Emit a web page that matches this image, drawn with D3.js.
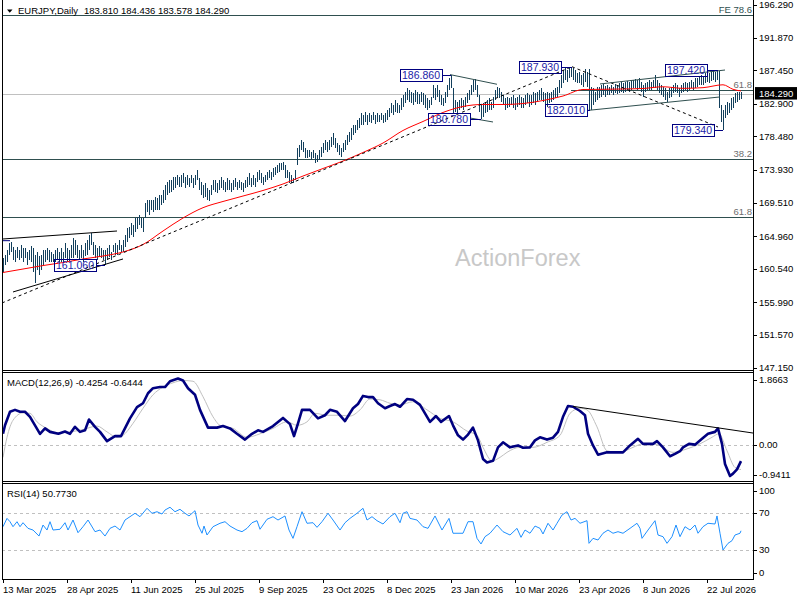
<!DOCTYPE html>
<html lang="en">
<head>
<meta charset="UTF-8">
<title>EURJPY Daily</title>
<script src="https://d3js.org/d3.v7.min.js"></script>
<style>
  body { margin: 0; background: #ffffff; }
  svg { display: block; font-family: "Liberation Sans", Arial, sans-serif; }
</style>
</head>
<body>
<script>
// ---- data ----
const symbolTitle = "EURJPY,Daily";
const lastOHLC = [183.810, 184.436, 183.578, 184.290];

// daily bar highs / lows, 13 Mar 2025 onwards
const highs = [
  162.0,162.4,163.1,164.0,164.2,163.5,163.1,163.5,163.1,163.8,
  163.4,163.4,162.8,163.1,163.6,163.4,162.4,162.8,162.3,162.4,
  163.1,163.1,163.4,163.1,162.8,162.6,163.1,163.4,162.8,163.4,
  162.8,164.0,163.4,163.1,163.8,164.7,164.5,163.8,163.1,163.8,
  163.1,164.0,164.5,165.1,165.4,164.2,163.8,163.4,163.6,163.4,
  163.1,163.1,163.4,163.8,162.8,163.8,164.0,163.8,164.5,163.8,
  164.5,165.1,166.1,166.2,166.8,166.5,167.4,167.6,167.8,167.4,
  167.4,169.5,169.9,169.9,169.9,169.9,170.3,170.1,170.6,170.6,
  171.2,171.9,172.3,172.6,172.6,173.0,173.0,173.3,173.0,173.3,
  173.5,173.0,173.3,172.9,173.3,172.9,173.3,173.9,172.9,172.3,
  171.9,172.2,171.5,171.2,171.9,172.6,172.6,172.2,172.6,173.0,
  172.6,172.3,172.9,172.6,172.2,172.6,172.9,172.3,172.6,172.3,
  172.2,172.6,173.0,173.5,172.9,173.3,172.9,173.7,173.9,173.5,
  173.0,173.3,173.7,173.9,173.7,174.2,174.3,174.6,174.9,174.9,
  175.0,174.6,173.9,173.7,173.3,172.9,173.9,176.9,177.3,178.0,
  177.7,176.9,176.6,176.6,176.4,176.6,176.2,176.0,176.6,177.0,
  177.6,178.0,177.7,178.0,178.4,178.9,178.3,177.6,177.3,176.9,
  177.6,178.0,178.7,179.1,179.6,180.0,180.0,180.7,181.0,181.7,
  181.4,181.8,181.4,181.7,181.4,181.8,181.4,181.7,181.4,181.7,
  181.4,181.7,182.1,182.3,183.0,182.7,183.4,183.0,182.7,183.7,
  184.1,184.5,185.0,184.8,184.5,184.4,184.8,184.5,184.2,184.5,
  184.4,184.1,183.7,183.4,183.8,185.5,185.0,185.5,184.8,184.1,
  183.7,184.5,185.5,186.4,186.86,185.0,183.4,183.2,183.4,183.7,
  183.4,183.8,184.4,184.8,185.5,186.1,186.3,185.5,184.1,182.7,
  183.0,183.2,183.4,183.7,183.2,183.8,184.8,185.2,185.0,184.5,
  184.1,183.7,183.8,183.7,183.8,184.1,183.7,183.8,184.1,183.8,
  183.7,184.1,184.4,184.1,184.1,184.5,184.4,184.5,184.8,185.0,
  184.5,184.4,184.5,184.4,184.5,184.8,185.0,185.2,186.1,186.8,
  187.5,187.8,187.5,187.9,187.93,187.8,187.5,187.1,187.2,186.8,
  187.1,187.6,187.2,187.6,185.2,185.0,184.5,185.2,185.2,185.5,
  185.6,185.3,185.5,185.2,185.5,185.2,185.6,185.5,185.7,185.9,
  185.7,185.9,186.0,185.9,186.1,186.1,186.3,186.1,186.4,185.9,
  185.5,185.7,185.9,186.1,185.9,186.1,186.8,186.1,185.7,185.5,
  185.2,185.0,184.5,185.0,185.2,185.5,185.7,185.5,185.0,185.5,
  185.7,185.9,185.7,185.9,186.1,185.9,186.4,186.4,186.5,186.8,
  186.5,187.1,187.2,187.1,187.2,187.3,187.2,187.42,187.3,182.7,
  182.1,182.7,183.2,183.0,183.7,183.8,184.4,184.5,184.5,184.436
];
const lows = [
  160.1,161.1,161.5,162.4,162.8,161.7,161.5,162.0,161.7,162.0,
  161.5,162.0,161.1,161.7,161.5,160.1,158.6,160.4,159.7,160.4,
  161.1,161.5,161.7,161.5,161.5,161.5,161.5,161.7,161.5,161.5,
  161.5,162.0,161.5,161.5,162.0,162.0,162.4,162.0,161.7,162.0,
  161.5,162.3,162.4,163.1,163.8,162.4,162.0,161.7,162.1,162.0,
  161.7,161.06,161.7,162.1,161.7,162.8,162.4,162.4,163.1,162.8,
  162.8,163.5,164.2,164.7,165.1,164.9,165.5,166.0,166.5,166.1,
  165.5,167.4,168.3,167.8,168.5,168.3,168.5,168.5,168.5,169.2,
  169.5,169.9,170.6,170.8,171.0,171.2,171.5,171.9,171.6,171.6,
  172.2,171.5,171.9,171.6,172.2,171.5,171.9,172.6,171.2,170.6,
  170.1,170.3,169.9,169.7,170.6,171.2,171.0,170.8,171.2,171.5,
  171.2,171.0,171.2,171.2,171.0,171.2,171.6,171.2,171.5,171.2,
  171.0,171.5,171.6,171.9,171.6,171.9,171.6,172.3,172.6,172.2,
  171.9,172.3,172.6,172.9,172.6,173.0,173.3,173.5,173.7,173.9,
  173.9,172.9,172.9,172.2,172.2,172.2,172.6,174.6,175.7,176.6,
  176.4,175.6,175.6,175.7,175.3,175.6,174.9,175.0,175.3,175.7,
  176.2,176.6,176.4,176.6,177.0,177.3,176.9,176.4,176.0,175.7,
  176.4,176.6,177.3,177.7,178.0,178.7,178.9,179.4,179.6,180.0,
  180.0,180.4,180.0,180.4,180.3,180.7,180.2,180.4,180.4,180.7,
  180.3,180.4,180.7,181.1,181.7,181.4,181.8,181.7,181.7,182.1,
  182.5,183.0,183.4,183.2,183.0,182.7,183.2,182.9,182.9,183.2,
  182.7,182.3,182.1,182.3,182.7,183.7,183.4,183.8,183.2,182.7,
  182.6,183.0,183.8,184.8,185.0,181.7,181.8,181.7,182.1,182.3,
  182.1,182.5,183.0,183.4,184.1,184.5,184.8,183.8,181.8,180.78,
  181.1,181.7,181.8,182.1,182.1,182.3,183.4,183.8,183.7,183.2,
  182.7,182.1,182.3,182.5,182.7,182.3,182.1,182.5,182.7,182.3,
  182.3,182.7,183.0,182.5,182.7,183.0,182.7,183.2,183.4,183.4,
  183.2,182.7,182.5,183.0,183.2,183.4,183.7,183.8,184.4,185.0,
  185.7,186.1,185.9,186.4,186.5,186.1,185.9,185.7,185.7,185.5,
  185.2,185.9,185.2,182.01,182.1,182.7,183.2,183.4,183.7,183.8,
  184.1,183.8,184.1,184.1,184.4,184.1,184.4,184.2,184.4,184.5,
  184.4,184.5,184.8,184.5,184.8,185.0,185.0,184.8,185.0,184.5,
  183.8,184.5,184.8,184.8,184.8,185.0,185.0,184.8,184.4,184.1,
  183.8,183.4,183.2,183.7,183.8,184.4,184.5,184.4,183.8,184.4,
  184.5,184.8,184.5,184.8,185.0,184.8,185.0,185.2,185.5,185.5,
  185.5,185.7,185.9,185.7,186.0,186.1,185.9,186.1,182.3,180.4,
  179.34,181.0,181.4,181.7,182.1,182.3,183.0,183.2,183.4,183.578
];

// red moving average, [bar, price]
const maLine = [
  [0,160.05],[10,160.52],[20,160.99],[30,161.40],[40,161.88],[50,162.28],[60,162.83],
  [70,163.84],[80,165.67],[90,167.43],[100,168.83],[110,169.67],[120,170.41],[130,171.16],
  [140,172.04],[150,173.12],[160,174.14],[170,175.15],[180,176.31],[190,177.59],[200,179.29],
  [210,180.51],[220,181.73],[230,182.54],[240,182.81],[250,182.81],[260,182.94],[270,183.35],
  [280,183.96],[290,184.84],[300,184.87],[310,184.91],[320,184.98],[330,185.21],[340,185.00],
  [350,185.09],[360,185.48],[365,184.87],[369,184.64]
];

const macdMain = [
  [0,0.28],[1,0.50],[3.5,0.85],[6,0.90],[8.5,0.85],[11,0.85],[13.5,0.72],[16,0.50],[18.5,0.28],
  [21,0.42],[23.5,0.33],[27.7,0.28],[31,0.34],[33.5,0.28],[36,0.46],[38.5,0.33],[41,0.37],
  [43,0.65],[46,0.46],[48.5,0.33],[52,0.09],[56,0.22],[59,0.22],[63.5,0.68],[67,0.97],
  [70,1.07],[72.5,1.33],[75,1.46],[78.5,1.49],[81,1.49],[83.5,1.64],[87.5,1.71],[90,1.66],
  [92.5,1.46],[96,1.29],[98.5,0.90],[102.5,0.44],[107,0.44],[110,0.48],[113.5,0.42],[117,0.28],
  [121,0.13],[124.5,0.28],[127.5,0.37],[130,0.33],[135,0.48],[140,0.69],[143.5,0.53],[145.5,0.22],
  [147.5,0.55],[149.5,0.90],[153.5,0.90],[157.5,0.68],[161,0.76],[163.5,0.90],[167,0.85],
  [171,0.61],[175,0.94],[177.5,1.05],[180,1.26],[182.5,1.23],[185,1.23],[187.5,1.07],[191,0.94],
  [193.5,1.00],[196,1.05],[198.5,0.98],[202,1.18],[205,1.16],[208.5,1.03],[211,0.81],[213.5,0.59],
  [216.5,0.74],[219,0.59],[223,0.74],[225,0.50],[227.5,0.24],[230,0.13],[232.5,0.26],[235,0.44],
  [237.5,0.11],[240,-0.37],[242,-0.46],[245,-0.42],[247.5,-0.07],[250,0.06],[253.5,-0.07],
  [257.5,-0.02],[260,-0.08],[263.5,-0.07],[266,0.11],[268.5,0.19],[272,0.13],[275,0.18],
  [277.5,0.33],[280,0.72],[282.5,1.00],[285,0.98],[288.5,0.87],[291,0.76],[292.5,0.28],
  [295,-0.02],[297.5,-0.26],[302,-0.20],[306,-0.20],[310,-0.20],[313.5,-0.02],[317.5,0.15],
  [320,0.02],[325,0.02],[327,0.09],[330,-0.07],[333.5,-0.30],[336,-0.24],[338.5,-0.17],
  [340,-0.07],[343,0.02],[346,0.00],[349.5,0.15],[352.5,0.28],[356,0.33],[357.5,0.42],
  [359.5,0.02],[361,-0.50],[363.5,-0.81],[365,-0.75],[367,-0.64],[369,-0.4254]
];
const macdSignal = [
  [0,-0.33],[2,0.19],[5,0.63],[10,0.82],[13.5,0.81],[17,0.59],[22,0.42],[27,0.31],[33.5,0.33],
  [40,0.39],[47,0.48],[52,0.33],[57,0.19],[60,0.24],[65,0.55],[70,0.94],[75,1.29],[80,1.49],
  [85,1.60],[90,1.66],[95,1.64],[100,1.24],[105,0.72],[109,0.48],[115,0.42],[122,0.19],
  [128.5,0.28],[135,0.42],[142,0.59],[147,0.50],[152,0.59],[156,0.81],[162,0.76],[168.5,0.76],
  [173.5,0.74],[178.5,0.90],[183.5,1.18],[188.5,1.16],[193.5,1.07],[198.5,1.03],[205,1.11],
  [212,0.90],[218.5,0.68],[225,0.59],[232,0.35],[237,0.24],[240,-0.07],[244.5,-0.42],
  [248.5,-0.33],[252,-0.20],[258.5,-0.07],[265,-0.07],[272,0.06],[278.5,0.24],[283.5,0.81],
  [288.5,0.94],[292,0.90],[297,0.46],[302,-0.16],[308.5,-0.20],[315,-0.07],[320,0.02],
  [327,0.00],[335,-0.20],[342,-0.11],[348.5,0.02],[354.5,0.19],[358,0.28],[362,-0.16],
  [366,-0.59],[369,-0.6444]
];
const macdTrend = [[285, 0.99], [375, 0.30]];

const rsiLine = [
  [0,55.2],[2,64.2],[3.5,60.6],[5,55.2],[7,60.6],[8.5,55.2],[10,59.5],[12.5,53.4],[15,51.6],
  [18,45.1],[20,57.0],[22,51.6],[23.5,60.6],[25,51.6],[28.5,52.4],[31,59.5],[32.5,51.6],
  [35,62.4],[37.5,48.7],[40,55.2],[42.5,62.4],[46,49.8],[48.5,51.6],[51,45.1],[53.5,53.4],
  [56,55.9],[58.5,51.6],[61,62.4],[63.5,66.0],[66,69.7],[68.5,66.0],[72,75.1],[74.5,69.7],
  [77,71.4],[79.5,68.9],[81,73.2],[83.5,76.2],[86,71.4],[88.5,74.0],[91,69.7],[93,66.8],
  [96,72.5],[97.5,57.0],[99.5,48.1],[100.5,55.9],[102,46.2],[105,55.2],[108.5,58.9],[111,60.6],
  [113.5,55.9],[117,51.6],[119.5,49.8],[122,53.4],[124.5,59.5],[127,61.7],[128.5,52.4],
  [132,63.2],[135,66.0],[137.5,62.4],[141,66.8],[143,51.6],[145,42.6],[147,55.2],[149.5,71.4],
  [152,58.9],[155,59.5],[157,54.5],[159.5,60.6],[162.5,69.7],[165,62.4],[168.5,51.6],[171,59.5],
  [173.5,64.2],[177,69.7],[180,75.1],[182,62.4],[184.5,66.0],[187,61.7],[190,58.1],[193.5,66.0],
  [196,69.7],[198.5,59.5],[200,69.7],[202,71.4],[203.5,64.2],[207,62.4],[210,55.2],[212.5,53.4],
  [216,66.8],[219.5,51.6],[223,64.2],[225,48.1],[227.5,48.1],[230,48.1],[232.5,60.6],[235,60.6],
  [237,42.6],[239,36.5],[241,44.4],[243.5,48.1],[247,57.0],[250,49.8],[253.5,46.2],[257,53.4],
  [259,43.7],[261,51.6],[263.5,48.1],[266,55.9],[268.5,53.4],[270,47.3],[272.5,58.9],[275,51.6],
  [277,58.9],[279.5,67.8],[282,71.4],[284,62.4],[286,64.2],[288.5,58.9],[292,61.7],[293,37.2],
  [295,42.6],[297.5,40.8],[300,48.1],[302.5,51.6],[305,48.1],[307.5,49.8],[310,48.1],[313.5,53.4],
  [317,58.9],[318.5,53.4],[319.5,42.6],[322.5,51.6],[326,61.7],[327.5,46.2],[330,44.4],[332,37.2],
  [334.5,44.4],[336.5,57.0],[338.5,44.4],[341,55.2],[343.5,51.6],[346,57.0],[347.5,48.1],
  [350,55.2],[352.5,58.9],[356,58.1],[357,66.8],[358.5,48.1],[360,30.0],[362.5,37.2],
  [364.5,40.1],[366,46.2],[368.5,48.1],[369,50.773]
];

const dateBars = [0, 32, 64, 96, 128, 160, 192, 224, 256, 288, 320, 352];
const dateLabels = ["13 Mar 2025", "28 Apr 2025", "11 Jun 2025", "25 Jul 2025", "9 Sep 2025",
  "23 Oct 2025", "8 Dec 2025", "23 Jan 2026", "10 Mar 2026", "23 Apr 2026", "8 Jun 2026", "22 Jul 2026"];
const priceTicks = [196.290, 191.870, 187.450, 182.900, 178.480, 173.930, 169.510, 164.960,
  160.540, 155.990, 151.570, 147.150];
const macdTicks = [1.8663, 0, -0.9411];
const rsiTicks = [100, 70, 30, 0];
const rsiLevels = [70, 30];

// fib levels: [label, price, first bar]
const fibLevels = [["FE 78.6", 194.94, -2], ["61.8", 184.73, 284], ["38.2", 175.36, -2], ["61.8", 167.53, -2]];

// trend lines, [[bar, price], [bar, price]]
const dashedTrends = [
  [[-0.5, 155.92], [284.5, 187.93]],
  [[284.5, 187.93], [357.5, 179.76]]
];
const blackTrends = [
  [[0, 164.59], [57, 165.67]],
  [[5, 157.41], [60, 161.88]]
];
const slateTrends = [
  [[223.5, 186.86], [247, 185.55]],
  [[233.5, 180.98], [245, 180.44]],
  [[292, 182.0], [358.5, 183.83]],
  [[298.5, 185.59], [361, 187.48]]
];
const navyMarks = [[[-0.5, 164.36], [3.5, 164.36]]];

// swing high / low labels
const swings = [
  ["161.060", 51, 161.06], ["186.860", 224, 186.86], ["180.780", 239, 180.78],
  ["187.930", 284.5, 187.93], ["182.010", 293.5, 182.01], ["187.420", 357.5, 187.42],
  ["179.340", 360, 179.34]
];
const swingGaps = [9, 9, 11, 11, 3, 11, 9];

// ---- layout ----
const W = 800, H = 600;
const plotL = 2, plotR = 753;
const main = {top: 0, bottom: 370};
const macdP = {top: 372, bottom: 481};
const rsiP = {top: 483, bottom: 579};
const fs = 9.5;

const x = d3.scaleLinear().domain([0, 369]).range([3, 741]);
const y = d3.scaleLinear().domain([147.15, 196.29]).range([367.7, 5]);
const yM = d3.scaleLinear().domain([-0.9411, 1.8663]).range([481, 372.5]);
const yR = d3.scaleLinear().domain([0, 100]).range([577.75, 485.25]);

const slate = "#2f4f4f";
const barColor = "#123f5c";

const svg = d3.select("body").append("svg")
    .attr("width", W).attr("height", H)
    .attr("viewBox", [0, 0, W, H].join(" "));

const defs = svg.append("defs");
[["clipMain", main], ["clipMacd", macdP], ["clipRsi", rsiP]].forEach(([id, p]) => {
  defs.append("clipPath").attr("id", id).append("rect")
      .attr("x", plotL).attr("y", p.top).attr("width", plotR - plotL).attr("height", p.bottom - p.top);
});

// watermark
svg.append("text")
    .attr("x", 455).attr("y", 266)
    .attr("font-size", 23.5)
    .attr("fill", "#c8c8c8")
    .text("ActionForex");

const gMain = svg.append("g").attr("clip-path", "url(#clipMain)");

// horizontal levels
gMain.append("line")
    .attr("x1", plotL).attr("x2", plotR)
    .attr("y1", Math.round(y(lastOHLC[3])) + 0.5).attr("y2", Math.round(y(lastOHLC[3])) + 0.5)
    .attr("stroke", "#c0c0c0");

gMain.selectAll(".fib")
  .data(fibLevels)
  .join("line")
    .attr("x1", d => Math.max(plotL, x(d[2])))
    .attr("x2", plotR)
    .attr("y1", d => Math.round(y(d[1])) + 0.5)
    .attr("y2", d => Math.round(y(d[1])) + 0.5)
    .attr("stroke", slate);

svg.selectAll(".fibText")
  .data(fibLevels)
  .join("text")
    .attr("x", 752)
    .attr("y", d => y(d[1]) - 2.3)
    .attr("text-anchor", "end")
    .attr("font-size", fs)
    .attr("fill", (d, i) => i === 0 ? slate : "#6e6e6e")
    .text(d => d[0]);

// bars
gMain.append("g")
    .attr("shape-rendering", "crispEdges")
  .selectAll("line")
  .data(highs.map((h, i) => [i, h, lows[i]]))
  .join("line")
    .attr("x1", d => x(d[0]) + 0.5)
    .attr("x2", d => x(d[0]) + 0.5)
    .attr("y1", d => y(d[1]))
    .attr("y2", d => Math.max(y(d[2]), y(d[1]) + 1))
    .attr("stroke", barColor)
    .attr("stroke-width", 1);

// moving average
gMain.append("path")
    .datum(maLine)
    .attr("d", d3.line().x(d => x(d[0])).y(d => y(d[1])).curve(d3.curveMonotoneX))
    .attr("fill", "none")
    .attr("stroke", "#ff0000")
    .attr("stroke-width", 1);

// trend lines
const seg = (g, data, color, dash) => g.append("g")
  .selectAll("line")
  .data(data)
  .join("line")
    .attr("x1", d => x(d[0][0])).attr("y1", d => y(d[0][1]))
    .attr("x2", d => x(d[1][0])).attr("y2", d => y(d[1][1]))
    .attr("stroke", color)
    .attr("stroke-width", 1)
    .attr("stroke-dasharray", dash);

seg(gMain, dashedTrends, "#000000", "3,3");
seg(gMain, blackTrends, "#000000", null);
seg(gMain, slateTrends, slate, null);
seg(gMain, navyMarks, "#000080", null);

// swing labels
const sw = gMain.append("g")
  .selectAll("g")
  .data(swings)
  .join("g");

sw.append("line")
    .attr("x1", (d, i) => x(d[1]) - swingGaps[i])
    .attr("x2", d => x(d[1]))
    .attr("y1", d => Math.round(y(d[2])) + 0.5)
    .attr("y2", d => Math.round(y(d[2])) + 0.5)
    .attr("stroke", "#000080");

sw.append("rect")
    .attr("x", (d, i) => Math.round(x(d[1]) - swingGaps[i] - 42) + 0.5)
    .attr("y", d => Math.round(y(d[2]) - 6) + 0.5)
    .attr("width", 42)
    .attr("height", 12)
    .attr("fill", "none")
    .attr("stroke", "#000080");

sw.append("text")
    .attr("x", (d, i) => x(d[1]) - swingGaps[i] - 21)
    .attr("y", d => y(d[2]) + 4)
    .attr("text-anchor", "middle")
    .attr("font-size", 10.5)
    .attr("fill", "#1c1ca8")
    .text(d => d[0]);

// ---- MACD panel ----
const gMacd = svg.append("g").attr("clip-path", "url(#clipMacd)");
gMacd.append("line")
    .attr("x1", plotL).attr("x2", plotR)
    .attr("y1", Math.round(yM(0)) + 0.5).attr("y2", Math.round(yM(0)) + 0.5)
    .attr("stroke", "#c0c0c0").attr("stroke-dasharray", "3,3");

gMacd.append("path")
    .datum(macdSignal)
    .attr("d", d3.line().x(d => x(d[0])).y(d => yM(d[1])).curve(d3.curveMonotoneX))
    .attr("fill", "none")
    .attr("stroke", "#c0c0c0")
    .attr("stroke-width", 1);

gMacd.append("path")
    .datum(macdMain)
    .attr("d", d3.line().x(d => x(d[0])).y(d => yM(d[1])))
    .attr("fill", "none")
    .attr("stroke", "#000080")
    .attr("stroke-width", 2.6)
    .attr("stroke-linejoin", "round");

gMacd.append("line")
    .attr("x1", x(macdTrend[0][0])).attr("y1", yM(macdTrend[0][1]))
    .attr("x2", x(macdTrend[1][0])).attr("y2", yM(macdTrend[1][1]))
    .attr("stroke", "#000000");

svg.append("text")
    .attr("x", 7).attr("y", 385.5)
    .attr("font-size", fs)
    .text(`MACD(12,26,9) ${macdMain[macdMain.length - 1][1].toFixed(4)} ${macdSignal[macdSignal.length - 1][1].toFixed(4)}`);

// ---- RSI panel ----
const gRsi = svg.append("g").attr("clip-path", "url(#clipRsi)");
gRsi.selectAll(".lvl")
  .data(rsiLevels)
  .join("line")
    .attr("x1", plotL).attr("x2", plotR)
    .attr("y1", d => Math.round(yR(d)) + 0.5).attr("y2", d => Math.round(yR(d)) + 0.5)
    .attr("stroke", "#c0c0c0").attr("stroke-dasharray", "3,3");

gRsi.append("path")
    .datum(rsiLine)
    .attr("d", d3.line().x(d => x(d[0])).y(d => yR(d[1])))
    .attr("fill", "none")
    .attr("stroke", "#1e90ff")
    .attr("stroke-width", 1);

svg.append("text")
    .attr("x", 7).attr("y", 496.5)
    .attr("font-size", fs)
    .text(`RSI(14) ${rsiLine[rsiLine.length - 1][1].toFixed(4)}`);

// ---- frames ----
const frame = svg.append("g").attr("stroke", "#000").attr("fill", "none").attr("shape-rendering", "crispEdges");
frame.append("line").attr("x1", plotL + 0.5).attr("x2", plotL + 0.5).attr("y1", 0).attr("y2", rsiP.bottom + 0.5);
frame.append("line").attr("x1", plotR + 0.5).attr("x2", plotR + 0.5).attr("y1", 0).attr("y2", rsiP.bottom + 0.5);
[main.bottom, macdP.top, macdP.bottom, rsiP.top, rsiP.bottom].forEach(v => {
  frame.append("line").attr("x1", plotL).attr("x2", plotR).attr("y1", v + 0.5).attr("y2", v + 0.5);
});

// ---- right axis ----
const axisG = svg.append("g").attr("font-size", fs);
const addTicks = (ticks, scale, fmt, p) => {
  ticks.forEach(t => {
    const cy = Math.min(Math.max(scale(t), p.top + 7.5), p.bottom - 6.3);
    axisG.append("line")
        .attr("x1", plotR).attr("x2", plotR + 4)
        .attr("y1", Math.round(cy) + 0.5).attr("y2", Math.round(cy) + 0.5)
        .attr("stroke", "#000");
    axisG.append("text")
        .attr("x", 759).attr("y", cy).attr("dy", "0.35em")
        .text(fmt(t));
  });
};
addTicks(priceTicks, y, d3.format(".3f"), {top: -10, bottom: 400});
addTicks(macdTicks, yM, t => t === 0 ? "0.00" : t.toFixed(4), macdP);
addTicks(rsiTicks, yR, d3.format("d"), rsiP);

// current price marker
const cp = y(lastOHLC[3]);
axisG.append("rect")
    .attr("x", 755).attr("y", cp - 6.5).attr("width", 42).attr("height", 12.5)
    .attr("fill", "#000");
axisG.append("text")
    .attr("x", 759).attr("y", cp).attr("dy", "0.35em")
    .attr("fill", "#fff")
    .text(lastOHLC[3].toFixed(3));

// ---- bottom axis ----
const bottomG = svg.append("g").attr("font-size", fs);
bottomG.selectAll("line")
  .data(dateBars)
  .join("line")
    .attr("x1", d => x(d) + 0.5).attr("x2", d => x(d) + 0.5)
    .attr("y1", rsiP.bottom).attr("y2", rsiP.bottom + 4)
    .attr("stroke", "#000");
bottomG.selectAll("text")
  .data(dateBars)
  .join("text")
    .attr("x", d => x(d))
    .attr("y", 592.5)
    .text((d, i) => dateLabels[i]);

// ---- header ----
svg.append("path")
    .attr("d", "M7,9.5 L12.5,9.5 L9.75,12.7 Z")
    .attr("fill", "#000");
svg.append("text")
    .attr("x", 18).attr("y", 14)
    .attr("font-size", fs)
    .text(symbolTitle);
svg.append("text")
    .attr("x", 84).attr("y", 14)
    .attr("font-size", fs)
    .text(lastOHLC.map(v => v.toFixed(3)).join(" "));
</script>
</body>
</html>
